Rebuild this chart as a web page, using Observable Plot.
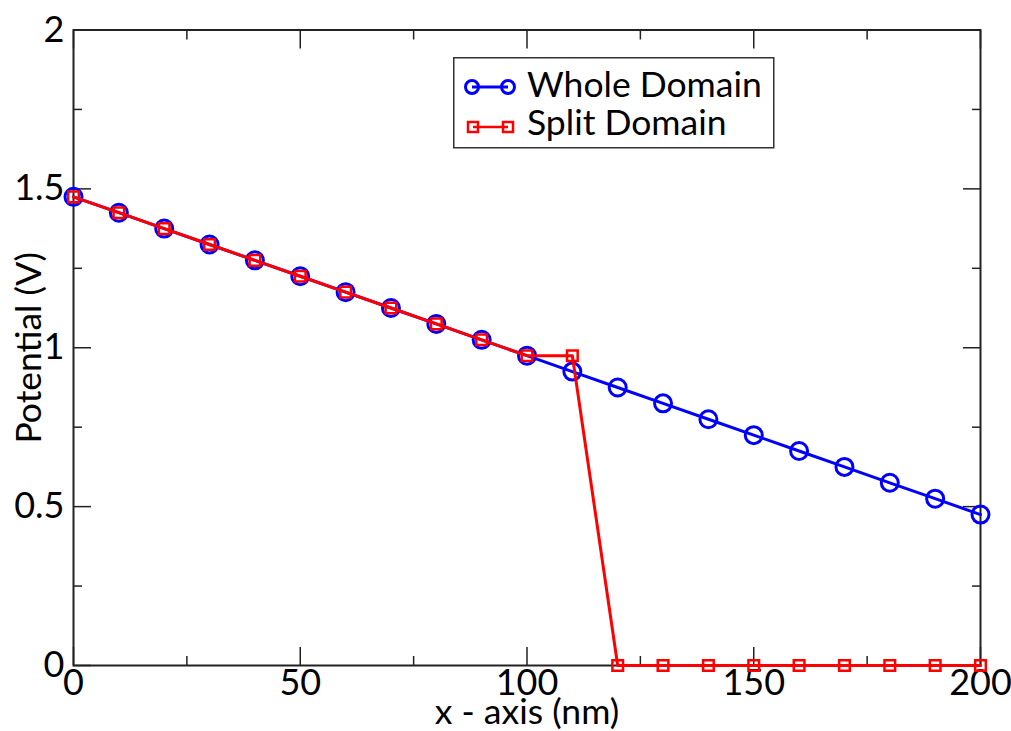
<!DOCTYPE html>
<html>
<head>
<meta charset="utf-8">
<script src="https://cdn.jsdelivr.net/npm/d3@7"></script>
<script src="https://cdn.jsdelivr.net/npm/@observablehq/plot@0.6"></script>
<style>
  html, body { margin: 0; padding: 0; background: #fff; }
  #wrap { position: relative; width: 1011px; height: 731px; }
  #legend { position: absolute; left: 453px; top: 57px; }
</style>
</head>
<body>
<div id="wrap"></div>
<script>
const FONT = "Lato, 'Open Sans', sans-serif";

// Data
const xPos = [0, 10, 20, 30, 40, 50, 60, 70, 80, 90, 100, 110, 120, 130, 140, 150, 160, 170, 180, 190, 200];
const wholeDomain = [1.475, 1.425, 1.375, 1.325, 1.275, 1.225, 1.175, 1.125, 1.075, 1.025, 0.975,
                     0.925, 0.875, 0.825, 0.775, 0.725, 0.675, 0.625, 0.575, 0.525, 0.475];
const splitDomain = [1.475, 1.425, 1.375, 1.325, 1.275, 1.225, 1.175, 1.125, 1.075, 1.025, 0.975,
                     0.975, 0, 0, 0, 0, 0, 0, 0, 0, 0];
const seriesNames = ["Whole Domain", "Split Domain"];
const xMajor = [0, 50, 100, 150, 200];
const xMinor = [25, 75, 125, 175];
const yMajor = [0, 0.5, 1, 1.5, 2];
const yMinor = [0.25, 0.75, 1.25, 1.75];
const yTickLabels = ["0", "0.5", "1", "1.5", "2"];
const xLabel = "x - axis (nm)";
const yLabel = "Potential (V)";

const whole = xPos.map((x, i) => ({x, v: wholeDomain[i]}));
const split = xPos.map((x, i) => ({x, v: splitDomain[i]}));

const tickOnly = {tickFormat: () => "", stroke: "#222", strokeWidth: 1.5, label: null};

const chart = Plot.plot({
  width: 1011,
  height: 731,
  marginLeft: 73,
  marginRight: 31,
  marginTop: 29.5,
  marginBottom: 66,
  style: {fontFamily: FONT, background: "#fff", color: "#000"},
  x: {domain: [0, 200], label: null},
  y: {domain: [0, 2], label: null},
  marks: [
    // major / minor inward ticks on all four sides
    Plot.axisX({ticks: xMajor, anchor: "bottom", tickSize: -18, ...tickOnly}),
    Plot.axisX({ticks: xMajor, anchor: "top", tickSize: -18, ...tickOnly}),
    Plot.axisX({ticks: xMinor, anchor: "bottom", tickSize: -9, ...tickOnly}),
    Plot.axisX({ticks: xMinor, anchor: "top", tickSize: -9, ...tickOnly}),
    Plot.axisY({ticks: yMajor, anchor: "left", tickSize: -18, ...tickOnly}),
    Plot.axisY({ticks: yMajor, anchor: "right", tickSize: -18, ...tickOnly}),
    Plot.axisY({ticks: yMinor, anchor: "left", tickSize: -9, ...tickOnly}),
    Plot.axisY({ticks: yMinor, anchor: "right", tickSize: -9, ...tickOnly}),
    // tick labels
    Plot.axisX({ticks: xMajor, anchor: "bottom", tickSize: 0, tickPadding: 4, fontSize: 36, label: null, fill: "#000"}),
    Plot.axisY({ticks: yMajor, anchor: "left", tickSize: 0, tickPadding: 9, fontSize: 36, label: null, fill: "#000",
                tickFormat: (d) => yTickLabels[yMajor.indexOf(d)]}),
    // axis titles
    Plot.text([xLabel], {frameAnchor: "bottom", dy: 58, text: d => d, lineAnchor: "bottom", textAnchor: "middle", fontSize: 35.5, fill: "#000"}),
    Plot.text([yLabel], {frameAnchor: "left", dx: -33, text: d => d, rotate: -90, lineAnchor: "bottom", textAnchor: "middle", fontSize: 35.5, fill: "#000"}),
    Plot.frame({stroke: "#222", strokeWidth: 2}),
    // Whole Domain
    Plot.line(whole, {x: "x", y: "v", stroke: "#0000ff", strokeWidth: 3}),
    Plot.dot(whole, {x: "x", y: "v", r: 8.5, stroke: "#0000ff", strokeWidth: 3, fill: "none"}),
    // Split Domain
    Plot.line(split, {x: "x", y: "v", stroke: "#ff0000", strokeWidth: 3}),
    Plot.dot(split, {x: "x", y: "v", symbol: "square", r: 6, stroke: "#ff0000", strokeWidth: 2.5, fill: "none"})
  ]
});

const wrap = document.getElementById("wrap");
wrap.appendChild(chart);

// Legend (inside the plot area, top right)
const lg = d3.create("svg")
  .attr("id", "legend")
  .attr("width", 322).attr("height", 92)
  .style("font-family", FONT);
lg.append("rect").attr("x", 0.75).attr("y", 0.75).attr("width", 320).attr("height", 90)
  .attr("fill", "#fff").attr("stroke", "#333").attr("stroke-width", 1.5);
// whole
lg.append("line").attr("x1", 19).attr("x2", 55).attr("y1", 30).attr("y2", 30)
  .attr("stroke", "#0000ff").attr("stroke-width", 3);
[19, 55].forEach(cx => lg.append("circle").attr("cx", cx).attr("cy", 30).attr("r", 6.5)
  .attr("fill", "none").attr("stroke", "#0000ff").attr("stroke-width", 3));
lg.append("text").attr("x", 74).attr("y", 40).attr("font-size", 35.5).attr("fill", "#000").text(seriesNames[0]);
// split
lg.append("line").attr("x1", 20).attr("x2", 55).attr("y1", 70).attr("y2", 70)
  .attr("stroke", "#ff0000").attr("stroke-width", 2.5);
[20, 55].forEach(cx => lg.append("rect").attr("x", cx - 5).attr("y", 65).attr("width", 10).attr("height", 10)
  .attr("fill", "none").attr("stroke", "#ff0000").attr("stroke-width", 2.5));
lg.append("text").attr("x", 74).attr("y", 78).attr("font-size", 35.5).attr("fill", "#000").text(seriesNames[1]);
wrap.appendChild(lg.node());
</script>
</body>
</html>
